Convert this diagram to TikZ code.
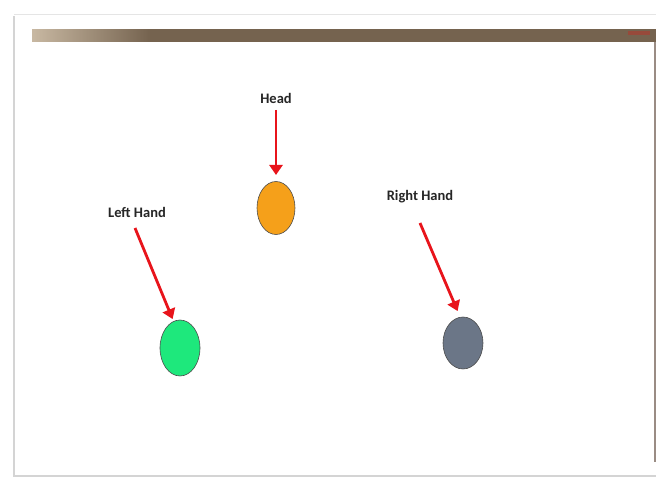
\documentclass[tikz,border=0pt]{standalone}
\usepackage{fontspec}
\setmainfont{Carlito}
\usetikzlibrary{arrows.meta}
\definecolor{arrred}{HTML}{E8141B}
\definecolor{headorange}{HTML}{F5A01A}
\definecolor{lhgreen}{HTML}{1EE87C}
\definecolor{rhgray}{HTML}{6B7687}
\definecolor{barDark}{HTML}{75634F}
\definecolor{barLight}{HTML}{C8B8A2}
\definecolor{frameGray}{HTML}{D4D4D4}
\definecolor{edgeBrown}{HTML}{9A8C84}
\tikzset{
  lbl/.style={font=\fontsize{14.5}{16}\selectfont\bfseries, text=black!85, inner sep=0pt},
  pointer/.style={draw=arrred, line width=2.8pt, -{Triangle[length=10pt,width=13pt]}, shorten >=1pt},
  joint/.style={draw=black!70, line width=0.6pt}
}
\begin{document}
\begin{tikzpicture}[x=1pt,y=-1pt]
\useasboundingbox (0,0) rectangle (665,478);
\fill[white] (0,0) rectangle (665,478);
% screenshot frame
\draw[frameGray, line width=1.5pt] (14,16) -- (14,476) -- (656,476);
\draw[frameGray!60, line width=0.8pt] (14,14) -- (656,14);
\begin{scope}
  \clip (32,30) rectangle (656,42);
  \fill[barDark] (32,28) rectangle (656,44);
  \shade[left color=barLight, right color=barDark] (32,28) rectangle (150,44);
  \fill[barDark!75!red] (628,31) rectangle (650,35);
\end{scope}
\draw[edgeBrown, line width=1.6pt] (655,42) -- (655,462);
% joints
\draw[joint, fill=headorange] (276,208) ellipse [x radius=19, y radius=26.5];
\draw[joint, fill=lhgreen] (180,348) ellipse [x radius=20, y radius=28];
\draw[joint, fill=rhgray] (463,343) ellipse [x radius=20, y radius=26];
% labels
\node[lbl] (headlbl) at (276,98) {Head};
\node[lbl] (lhlbl) at (137,212) {Left Hand};
\node[lbl] (rhlbl) at (420,197) {Right Hand};
% arrows
\coordinate (ha) at (276,110);
\coordinate (la) at (135,228);
\coordinate (ra) at (420,223);
\coordinate (hb) at (276,176);
\coordinate (lb) at (173,320);
\coordinate (rb) at (458,312);
\draw[pointer] (ha) -- (hb);
\draw[pointer] (la) -- (lb);
\draw[pointer] (ra) -- (rb);
\end{tikzpicture}
\end{document}
